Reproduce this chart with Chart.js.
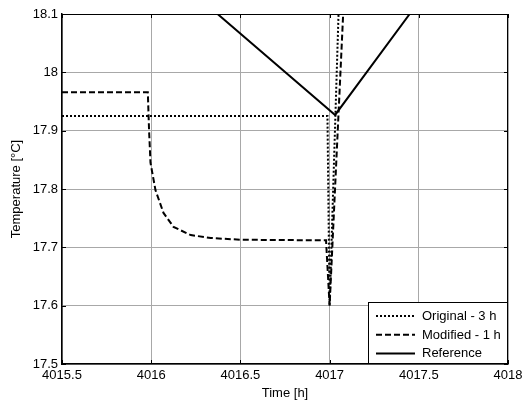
<!DOCTYPE html>
<html>
<head>
<meta charset="utf-8">
<script src="https://cdn.jsdelivr.net/npm/chart.js@4/dist/chart.umd.min.js"></script>
<style>
  html, body { margin: 0; padding: 0; background: #fff; }
  canvas { display: block; }
</style>
</head>
<body>
<canvas id="tempChart" width="522" height="401"></canvas>
<script>
/* global Chart */

// Original - 3 h (dotted)
const origTime = [4015.5, 4016.988, 4017.0, 4017.05];
const origTemp = [17.925, 17.925, 17.6, 18.1];

// Modified - 1 h (dashed)
const modTime = [4015.5, 4015.981, 4015.988, 4015.996, 4016.024, 4016.069, 4016.125, 4016.222, 4016.334, 4016.5, 4016.98, 4017.0, 4017.076];
const modTemp = [17.966, 17.966, 17.901, 17.845, 17.798, 17.759, 17.735, 17.721, 17.716, 17.713, 17.712, 17.6, 18.1];

// Reference (solid)
const refTime = [4016.372, 4017.031, 4017.449];
const refTemp = [18.1, 17.927, 18.1];

const xTicks = [4015.5, 4016, 4016.5, 4017, 4017.5, 4018];
const yTicks = [17.5, 17.6, 17.7, 17.8, 17.9, 18, 18.1];

const FONT = "'Liberation Sans', Arial, sans-serif";

function toPoints(xs, ys) {
  return xs.map((x, i) => ({ x, y: ys[i] }));
}

function fmt(v) {
  return String(+Number(v).toFixed(2));
}

// inward ticks on all sides, top/right border, legend box
const frameAndLegend = {
  id: "frameAndLegend",
  afterDatasetsDraw(chart) {
    const { ctx, chartArea: a, scales } = chart;
    ctx.save();
    ctx.strokeStyle = "#000";
    ctx.lineWidth = 1;
    ctx.setLineDash([]);
    ctx.beginPath();
    ctx.moveTo(a.left, a.top + 0.5);
    ctx.lineTo(a.right, a.top + 0.5);
    ctx.moveTo(a.right - 0.5, a.top);
    ctx.lineTo(a.right - 0.5, a.bottom);
    const tl = 4;
    xTicks.forEach((t) => {
      const px = Math.round(scales.x.getPixelForValue(t)) + 0.5;
      ctx.moveTo(px, a.bottom); ctx.lineTo(px, a.bottom - tl);
      ctx.moveTo(px, a.top); ctx.lineTo(px, a.top + tl);
    });
    yTicks.forEach((t) => {
      const py = Math.round(scales.y.getPixelForValue(t)) + 0.5;
      ctx.moveTo(a.left, py); ctx.lineTo(a.left + tl, py);
      ctx.moveTo(a.right, py); ctx.lineTo(a.right - tl, py);
    });
    ctx.stroke();

    // legend
    const bx = 368, by = 302, bw = a.right - 368, bh = a.bottom - 302;
    ctx.fillStyle = "#fff";
    ctx.fillRect(bx, by, bw, bh);
    ctx.strokeRect(bx + 0.5, by + 0.5, bw - 1, bh - 1);
    ctx.font = "13px " + FONT;
    ctx.textBaseline = "middle";
    ctx.textAlign = "left";
    chart.data.datasets.forEach((ds, i) => {
      const yy = 316 + i * 18.7;
      ctx.beginPath();
      ctx.lineWidth = ds.borderWidth;
      ctx.setLineDash(ds.borderDash || []);
      ctx.moveTo(376, yy);
      ctx.lineTo(415, yy);
      ctx.stroke();
      ctx.setLineDash([]);
      ctx.fillStyle = "#000";
      ctx.fillText(ds.label, 422, yy + 0.5);
    });
    ctx.restore();
  },
};

new Chart(document.getElementById("tempChart"), {
  type: "line",
  data: {
    datasets: [
      {
        label: "Original - 3 h",
        data: toPoints(origTime, origTemp),
        borderColor: "#000",
        borderWidth: 2,
        borderDash: [2, 2],
        pointRadius: 0,
        tension: 0,
      },
      {
        label: "Modified - 1 h",
        data: toPoints(modTime, modTemp),
        borderColor: "#000",
        borderWidth: 2,
        borderDash: [6, 3],
        pointRadius: 0,
        tension: 0,
      },
      {
        label: "Reference",
        data: toPoints(refTime, refTemp),
        borderColor: "#000",
        borderWidth: 2,
        pointRadius: 0,
        tension: 0,
      },
    ],
  },
  options: {
    responsive: false,
    animation: false,
    devicePixelRatio: 1,
    layout: { padding: { left: 0, top: 14, right: 0, bottom: 0 } },
    plugins: { legend: { display: false }, tooltip: { enabled: false } },
    scales: {
      x: {
        type: "linear",
        min: 4015.5,
        max: 4018,
        afterBuildTicks: (s) => { s.ticks = xTicks.map((v) => ({ value: v })); },
        afterFit: (s) => { s.height = 37; s.paddingRight = 14; },
        ticks: { color: "#000", font: { family: FONT, size: 13 }, padding: 4, maxRotation: 0, autoSkip: false, callback: fmt },
        grid: { color: "#a8a8a8", lineWidth: 1, drawTicks: false },
        border: { color: "#000", width: 1.5 },
        title: { display: true, text: "Time [h]", color: "#000", font: { family: FONT, size: 13 }, padding: { top: 0, bottom: 0 } },
      },
      y: {
        type: "linear",
        min: 17.5,
        max: 18.1,
        afterBuildTicks: (s) => { s.ticks = yTicks.map((v) => ({ value: v })); },
        afterFit: (s) => { s.width = 62; },
        ticks: { color: "#000", font: { family: FONT, size: 13 }, padding: 4, autoSkip: false, callback: fmt },
        grid: { color: "#a8a8a8", lineWidth: 1, drawTicks: false },
        border: { color: "#000", width: 1.5 },
        title: { display: true, text: "Temperature [°C]", color: "#000", font: { family: FONT, size: 13 }, padding: { top: 9, bottom: 0 } },
      },
    },
  },
  plugins: [frameAndLegend],
});
</script>
</body>
</html>
